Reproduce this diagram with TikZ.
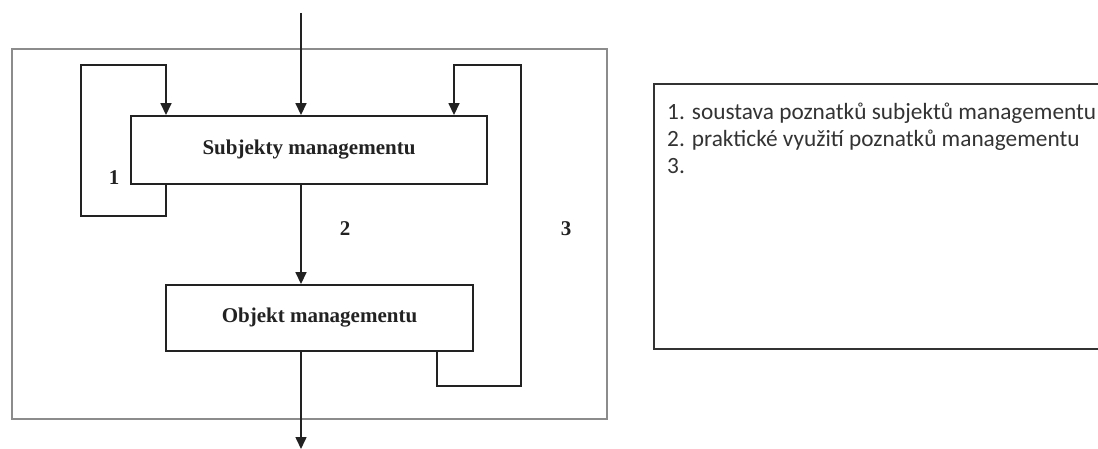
\documentclass[tikz,border=0pt]{standalone}
\usepackage{fontspec}
\setmainfont{Liberation Serif}
\newfontfamily\notefont{Carlito}
\usetikzlibrary{arrows.meta}
\definecolor{ink}{HTML}{222222}
\definecolor{framegray}{HTML}{8C8C8C}
\definecolor{notegray}{HTML}{333333}
\tikzset{
  flowbox/.style={draw=ink, line width=1.9pt, fill=white, inner sep=0pt,
    font=\fontsize{21}{25}\selectfont\bfseries, text=ink},
  flowline/.style={draw=ink, line width=1.6pt},
  flowarrow/.style={flowline, -{Triangle[width=11pt,length=12pt]}},
  numlabel/.style={font=\fontsize{21}{25}\selectfont\bfseries, text=ink, inner sep=0pt},
  notetext/.style={font=\notefont\fontsize{23.3}{27}\selectfont, text=notegray,
    align=left, inner sep=0pt, anchor=north west}
}
\begin{document}
\begin{tikzpicture}[x=1pt, y=-1pt]
  \useasboundingbox (0,0) rectangle (1098,449);
  % outer frame around the management cycle
  \draw[framegray, line width=1.7pt] (12,49) rectangle (607,419);

  % the two blocks
  \node[flowbox, minimum width=356pt, minimum height=68pt] (sub) at (309,150) {Subjekty managementu};
  \node[flowbox, minimum width=307pt, minimum height=66pt] (obj) at (319.5,318) {Objekt managementu};

  % input, main flow and output along x = 301
  \coordinate (in)  at (301,13);
  \coordinate (out) at (301,449);
  \draw[flowarrow] (in) -- (sub.north -| in);
  \draw[flowarrow] (sub.south -| in) -- (obj.north -| in);
  \draw[flowarrow] (obj.south -| in) -- (out);

  % loop 1: subjects feed back on themselves
  \coordinate (l1a) at (166,216);
  \coordinate (l1b) at (81,65);
  \draw[flowarrow] (sub.south -| l1a) -- (l1a) -| (l1b) -| (sub.north -| l1a);

  % loop 3: from the object back to the subjects
  \coordinate (l3a) at (437,386);
  \coordinate (l3b) at (521,65);
  \coordinate (l3c) at (454,65);
  \draw[flowarrow] (obj.south -| l3a) |- (l3b |- l3a) -- (l3b) -- (l3c) -- (sub.north -| l3c);

  % loop numbers
  \node[numlabel] (n1) at (114,178) {1};
  \node[numlabel] (n2) at (345,229) {2};
  \node[numlabel] (n3) at (566,229) {3};

  % legend box, open to the right
  \coordinate (ltr) at (1110,84);
  \coordinate (ltl) at (654,84);
  \coordinate (lbl) at (654,349);
  \coordinate (lbr) at (1110,349);
  \draw[notegray, line width=2.4pt] (ltr) -- (ltl) -- (lbl) -- (lbr);
  \node[notetext] (legend) at (667,103)
    {1. soustava poznatků subjektů managementu\\
     2. praktické využití poznatků managementu\\
     3.};
\end{tikzpicture}
\end{document}
